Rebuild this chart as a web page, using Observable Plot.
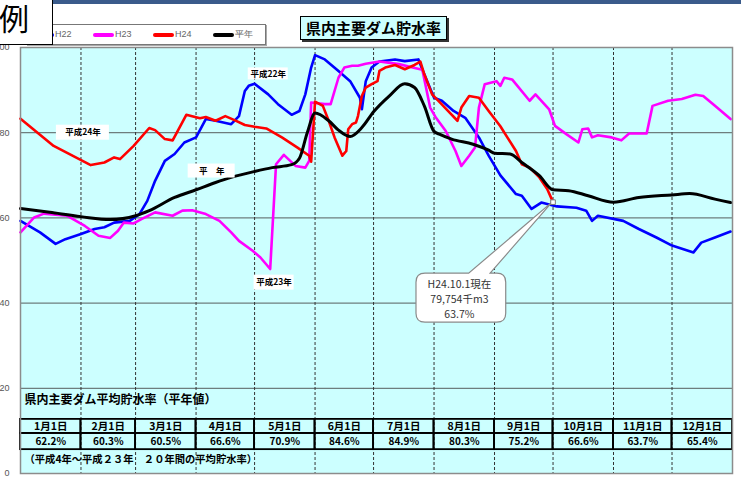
<!DOCTYPE html>
<html><head><meta charset="utf-8">
<script src="https://cdn.jsdelivr.net/npm/d3@7"></script>
<script src="https://cdn.jsdelivr.net/npm/@observablehq/plot@0.6"></script>
<style>
body{margin:0;background:#fff;font-family:"Noto Sans CJK JP","Noto Sans",sans-serif;}
#wrap{position:relative;width:741px;height:483px;overflow:hidden;background:#fff;}
#band{position:absolute;left:0;top:0;width:741px;height:4px;background:#3a5b8b;}
#chart{position:absolute;left:0;top:0;}
#legend{position:absolute;left:26px;top:24px;width:238px;height:19px;border:1px solid #777;background:#fff;box-shadow:1px 1px 0 #aaa;}
#legend .sw{position:absolute;top:8px;width:21px;height:4px;border-radius:2px;}
#legend .lb{position:absolute;top:3px;font:9px "Liberation Sans",Arial,sans-serif;color:#666;line-height:12px;}
#title{position:absolute;left:300px;top:16px;width:145px;height:22px;border:1.5px solid #000;background:#ccffff;box-shadow:2px 2px 0 #333;font:bold 15px "Noto Sans CJK JP",sans-serif;line-height:22px;text-align:center;color:#000;letter-spacing:0px;}
#hanrei{position:absolute;left:-60px;top:-4px;width:111px;height:47px;border:1.5px solid #000;background:#fff;z-index:5;overflow:hidden;}
#hanrei span{position:absolute;right:23px;top:5px;font:30px "Noto Sans CJK JP",sans-serif;line-height:30px;color:#000;}
</style></head><body>
<div id="wrap">
  <div id="chart"></div>
  <div id="band"></div>
  <div id="legend"></div>
  <div id="title">県内主要ダム貯水率</div>
  <div id="hanrei"><span>例</span></div>
</div>
<script>
// ---- data ----
const seriesNames = ["H22", "H23", "H24", "平年"];
const seriesColors = ["#0000ff", "#ff00ff", "#ff0000", "#000000"];

const H22 = [["1/1",59.3],["1/11",56.6],["1/19",53.9],["1/24",55.0],["2/1",56.2],["2/8",57.4],["2/13",57.8],["2/18",58.9],["2/26",59.3],["3/3",60.9],["3/7",64.0],["3/11",68.7],["3/16",73.4],["3/21",75.0],["3/26",77.7],["4/1",78.9],["4/6",83.2],["4/11",82.8],["4/19",82.0],["4/23",83.9],["4/26",89.8],["4/28",91.0],["5/1",91.5],["5/8",89.0],["5/13",86.7],["5/20",84.2],["5/24",85.1],["5/27",89.0],["5/30",95.3],["6/1",98.2],["6/6",97.2],["6/13",94.5],["6/19",92.1],["6/24",88.2],["6/25",85.5],["6/27",92.1],["6/30",95.3],["7/4",96.7],["7/12",97.2],["7/17",96.8],["7/24",97.2],["7/27",93.7],["8/1",88.2],["8/5",87.5],["8/11",85.1],["8/17",83.5],["8/24",78.9],["8/29",74.6],["9/4",70.0],["9/12",65.6],["9/15",65.2],["9/20",62.1],["9/25",63.6],["10/3",62.7],["10/13",62.4],["10/18",61.7],["10/21",59.3],["10/24",60.5],["11/6",59.3],["11/14",57.4],["11/23",55.4],["12/1",53.5],["12/12",51.9],["12/16",54.2],["12/23",55.4],["12/31",56.8]];

const H23 = [["1/1",56.6],["1/8",60.1],["1/13",61.0],["1/25",60.5],["2/3",58.1],["2/10",55.8],["2/16",55.3],["2/20",57.0],["2/23",58.9],["2/28",58.7],["3/4",59.7],["3/11",61.3],["3/20",60.5],["3/25",61.7],["3/30",61.8],["4/6",60.9],["4/13",59.3],["4/19",56.6],["4/23",54.6],["4/30",52.3],["5/4",50.7],["5/9",48.0],["5/12",72.6],["5/16",74.8],["5/22",72.2],["5/27",71.8],["5/29",73.4],["5/30",87.1],["6/6",86.7],["6/9",86.7],["6/13",92.9],["6/16",95.3],["6/20",95.7],["6/23",95.7],["6/27",96.2],["7/4",96.7],["7/14",96.1],["7/21",95.3],["7/26",94.8],["7/30",85.9],["8/2",83.5],["8/7",80.4],["8/12",75.7],["8/15",72.2],["8/19",74.6],["8/22",76.5],["8/24",85.9],["8/27",91.4],["9/2",92.1],["9/4",91.0],["9/6",92.9],["9/10",92.5],["9/19",87.5],["9/22",89.0],["9/29",85.5],["10/2",81.6],["10/8",79.6],["10/14",77.7],["10/16",80.8],["10/19",81.0],["10/21",78.9],["10/24",79.4],["10/31",78.9],["11/5",78.2],["11/9",79.8],["11/18",79.8],["11/21",86.3],["11/29",87.5],["12/6",87.9],["12/13",88.9],["12/17",88.6],["12/23",86.3],["12/31",83.2]];

const H24 = [["1/1",83.3],["1/18",76.9],["2/6",72.4],["2/13",73.0],["2/18",74.2],["2/21",73.8],["2/28",76.9],["3/8",81.1],["3/11",80.6],["3/16",78.5],["3/20",78.2],["3/27",84.2],["4/3",83.4],["4/6",83.7],["4/11",82.8],["4/16",83.9],["4/21",82.9],["4/26",81.8],["5/1",81.4],["5/7",81.0],["5/15",78.9],["5/23",76.5],["5/29",74.6],["5/30",73.2],["6/1",87.3],["6/5",86.3],["6/8",82.8],["6/11",78.9],["6/15",74.6],["6/17",75.7],["6/18",80.8],["6/20",82.0],["6/22",82.4],["6/23",83.9],["6/25",88.6],["6/27",90.6],["6/30",91.4],["7/3",92.1],["7/4",94.5],["7/7",95.3],["7/12",95.9],["7/17",94.9],["7/22",95.9],["7/25",96.7],["7/27",93.7],["7/31",89.0],["8/4",87.1],["8/9",84.7],["8/13",82.8],["8/15",85.9],["8/19",88.6],["8/24",88.2],["8/29",85.1],["9/4",81.5],["9/12",75.7],["9/15",72.6],["9/19",71.8],["9/24",69.5],["9/28",66.8],["10/1",63.7]];

const HEINEN = [["1/1",62.2],["1/16",61.3],["2/1",60.3],["2/16",59.6],["3/1",60.5],["3/8",61.7],["3/21",64.8],["4/1",66.6],["4/11",68.3],["4/19",69.5],["5/1",70.9],["5/10",71.8],["5/20",72.5],["5/24",74.0],["5/28",80.0],["6/1",84.6],["6/8",82.8],["6/13",80.6],["6/19",79.1],["6/25",81.2],["7/1",84.9],["7/9",88.6],["7/17",91.5],["7/22",90.6],["7/27",86.3],["8/1",80.3],["8/4",79.6],["8/10",78.5],["8/21",77.3],["8/29",75.9],["9/1",75.2],["9/9",75.0],["9/15",73.0],["9/24",69.9],["10/1",66.6],["10/9",66.4],["10/19",65.2],["11/1",63.7],["11/14",64.8],["12/1",65.4],["12/10",65.7],["12/23",64.4],["12/31",63.6]];

const yTicks = [0, 20, 40, 60, 80, 100];
const tableMonths = ["1月1日","2月1日","3月1日","4月1日","5月1日","6月1日","7月1日","8月1日","9月1日","10月1日","11月1日","12月1日"];
const tableValues = ["62.2%","60.3%","60.5%","66.6%","70.9%","84.6%","84.9%","80.3%","75.2%","66.6%","63.7%","65.4%"];
const tableTitle = "県内主要ダム平均貯水率（平年値）";
const tableNote = "（平成4年～平成２３年　２０年間の平均貯水率）";
const seriesLabels = [["平成24年","2/2",80.0],["平成22年","5/8",93.8],["平　年","4/9",71.0],["平成23年","5/11",44.8]];
const calloutLines = ["H24.10.1現在", "79,754千m3", "63.7%"];
const calloutPoint = ["10/1", 63.7];

// ---- helpers ----
const YEAR = 2011;
const md = s => { const [m, d] = s.split("/").map(Number); return new Date(Date.UTC(YEAR, m - 1, d)); };
const rows = [H22, H23, H24, HEINEN].flatMap((arr, i) => arr.map(([d, v]) => ({date: md(d), value: v, series: seriesNames[i]})));
const monthStarts = d3.utcMonths(new Date(Date.UTC(YEAR, 0, 1)), new Date(Date.UTC(YEAR + 1, 0, 2)));
const table = tableMonths.map((label, i) => ({x1: monthStarts[i], x2: monthStarts[i + 1], mid: new Date((+monthStarts[i] + +monthStarts[i + 1]) / 2), label, value: tableValues[i]}));

// legend
const legend = document.getElementById("legend");
seriesNames.forEach((n, i) => {
  const left = 6 + 60 * i;
  legend.insertAdjacentHTML("beforeend", `<i class="sw" style="left:${left}px;background:${seriesColors[i]}"></i><span class="lb" style="left:${left + 22}px">${n}</span>`);
});

const F = '"Noto Sans CJK JP", sans-serif';
const labelSizes = [[53, 15], [40, 12], [47, 14], [40, 15]];

// callout bubble drawn in data space
const callout = (index, {x, y}) => {
  const L = x(md("7/23")), R = x(md("9/7")), T = y(46.9), B = y(35.4);
  const a = x(md("8/19")), b = x(md("8/30"));
  const tx = x(md(calloutPoint[0])), ty = y(calloutPoint[1]);
  const r = 9;
  const d = `M${L + r},${T}L${a},${T}L${tx},${ty}L${b},${T}L${R - r},${T}Q${R},${T} ${R},${T + r}L${R},${B - r}Q${R},${B} ${R - r},${B}L${L + r},${B}Q${L},${B} ${L},${B - r}L${L},${T + r}Q${L},${T} ${L + r},${T}Z`;
  const g = d3.create("svg:g");
  g.append("path").attr("d", d).attr("fill", "#fff").attr("stroke", "#8a8a8a").attr("stroke-width", 1.2);
  return g.node();
};
const calloutRows = calloutLines.map((t, i) => ({t, v: [44.3, 40.8, 37.4][i]}));

const chart = Plot.plot({
  width: 741, height: 483,
  marginLeft: 20, marginRight: 9, marginTop: 47, marginBottom: 10,
  style: {background: "transparent", overflow: "visible", fontFamily: F},
  x: {type: "utc", domain: [monthStarts[0], monthStarts[12]], axis: null},
  y: {domain: [0, 100], axis: null},
  marks: [
    Plot.frame({fill: "#ccffff", stroke: "none"}),
    Plot.ruleY(yTicks.slice(1, 5), {stroke: "#6e7e7e", strokeWidth: 1.2}),
    Plot.ruleX(monthStarts.slice(1, 12), {stroke: "#333", strokeWidth: 1, strokeDasharray: "3,2"}),
    // table of normal-year values
    Plot.rect(table, {x1: "x1", x2: "x2", y1: () => 9.4, y2: () => 12.7, stroke: "#000", strokeWidth: 1.8, fill: "none"}),
    Plot.rect(table, {x1: "x1", x2: "x2", y1: () => 5.6, y2: () => 9.4, stroke: "#000", strokeWidth: 1.8, fill: "none"}),
    Plot.text(table, {x: "mid", y: () => 11.05, text: "label", fontSize: 10.5, fontWeight: "bold", fill: "#000", fontFamily: F}),
    Plot.text(table, {x: "mid", y: () => 7.5, text: "value", fontSize: 10, fontWeight: "bold", fill: "#000", fontFamily: F}),
    Plot.text([tableTitle], {x: () => monthStarts[0], y: () => 17.1, text: d => d, textAnchor: "start", dx: 4, fontSize: 12, fontWeight: "bold", fill: "#000", fontFamily: F}),
    Plot.text([tableNote], {x: () => monthStarts[0], y: () => 3.3, text: d => d, textAnchor: "start", dx: 4, fontSize: 10.3, fontWeight: "bold", fill: "#000", fontFamily: F}),
    // series
    ...seriesNames.map((n, i) => Plot.line(rows.filter(r => r.series === n), {x: "date", y: "value", stroke: seriesColors[i], strokeWidth: n === "平年" ? 3 : 2.6, curve: n === "平年" ? "monotone-x" : "linear", strokeLinejoin: "round"})),
    // series labels
    ...seriesLabels.map(([t, d, v], i) => Plot.rect([0], {x1: () => md(d), x2: () => md(d), y1: () => v, y2: () => v, fill: "#fff", insetLeft: -labelSizes[i][0] / 2, insetRight: -labelSizes[i][0] / 2, insetTop: -labelSizes[i][1] / 2, insetBottom: -labelSizes[i][1] / 2})),
    Plot.text(seriesLabels, {x: d => md(d[1]), y: d => d[2], text: d => d[0], fontSize: 8.5, fontWeight: "bold", fill: "#000", fontFamily: F}),
    // callout
    callout,
    Plot.text(calloutRows, {x: () => md("8/14"), y: "v", text: "t", fontSize: 10.5, fill: "#333", fontFamily: F}),
    Plot.dot([calloutPoint], {x: d => md(d[0]), y: d => d[1], symbol: "square", r: 2.6, fill: "#fff", stroke: "#777", strokeWidth: 1}),
    Plot.frame({stroke: "#8c8c8c", strokeWidth: 1.5}),
    Plot.axisY(yTicks, {tickSize: 0, tickPadding: 11, fontSize: 9, color: "#555", fontFamily: '"Liberation Sans", Arial, sans-serif'})
  ]
});
document.getElementById("chart").appendChild(chart);
</script>
</body></html>
